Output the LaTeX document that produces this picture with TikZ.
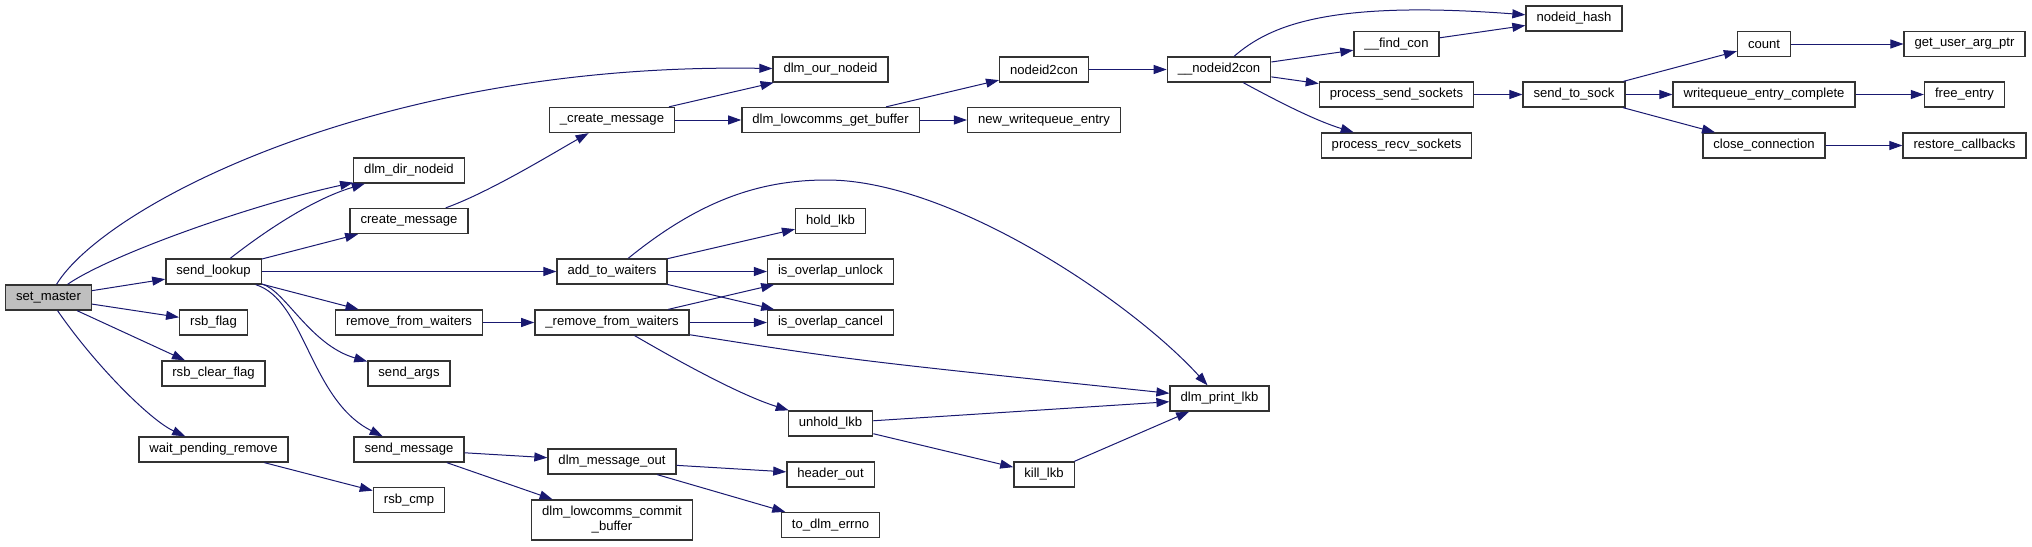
\documentclass[tikz,border=0pt]{standalone}
\usepackage{fontspec}
\setmainfont{Liberation Sans}
\usetikzlibrary{arrows.meta}
\definecolor{midnightblue}{RGB}{25,25,112}
\definecolor{grey75}{RGB}{191,191,191}
\tikzset{
  fn/.style={draw=black!80, line width=0.65pt, fill=white, inner xsep=5.25pt, inner ysep=0pt,
    minimum height=12.5pt, font=\fontsize{6.55}{7.5}\selectfont},
  call/.style={-{Triangle[length=6.5pt,width=4.5pt]}, midnightblue, line width=0.5pt}
}
\begin{document}
\begin{tikzpicture}[x=0.5pt, y=-0.5pt]
\useasboundingbox (0,0) rectangle (2032,546);

% Functions (one column per call depth)
\node[fn, fill=grey75] (set_master) at (48.5,297.5) {set\_master};

\node[fn] (send_lookup) at (213.5,271.5) {send\_lookup};
\node[fn] (rsb_flag) at (213.5,322.5) {rsb\_flag};
\node[fn] (rsb_clear_flag) at (213.5,373.5) {rsb\_clear\_flag};
\node[fn] (wait_pending) at (213.5,449.5) {wait\_pending\_remove};

\node[fn] (dir_nodeid) at (409,170.5) {dlm\_dir\_nodeid};
\node[fn] (create_msg) at (409,221) {create\_message};
\node[fn] (rm_waiters) at (409,322.5) {remove\_from\_waiters};
\node[fn] (send_args) at (409,373.5) {send\_args};
\node[fn] (send_msg) at (409,449.5) {send\_message};
\node[fn] (rsb_cmp) at (409,500) {rsb\_cmp};

\node[fn] (create_msg_int) at (612,120) {\_create\_message};
\node[fn] (add_waiters) at (612,271.5) {add\_to\_waiters};
\node[fn] (rm_waiters_int) at (612,322.5) {\_remove\_from\_waiters};
\node[fn] (msg_out) at (612,461.5) {dlm\_message\_out};
\node[fn, minimum height=20pt, align=center] (commit_buf) at (612,520) {dlm\_lowcomms\_commit\\\_buffer};

\node[fn] (our_nodeid) at (830.5,69.5) {dlm\_our\_nodeid};
\node[fn] (get_buf) at (830.5,120) {dlm\_lowcomms\_get\_buffer};
\node[fn] (hold_lkb) at (830.5,221) {hold\_lkb};
\node[fn] (ov_unlock) at (830.5,271.5) {is\_overlap\_unlock};
\node[fn] (ov_cancel) at (830.5,322.5) {is\_overlap\_cancel};
\node[fn] (unhold_lkb) at (830.5,423.5) {unhold\_lkb};
\node[fn] (header_out) at (830.5,474.5) {header\_out};
\node[fn] (errno) at (830.5,525) {to\_dlm\_errno};

\node[fn] (nodeid2con) at (1044,69.5) {nodeid2con};
\node[fn] (new_wq) at (1044,120) {new\_writequeue\_entry};
\node[fn] (kill_lkb) at (1044,474.5) {kill\_lkb};

\node[fn] (nodeid2con_int) at (1219,69.5) {\_\_nodeid2con};
\node[fn] (print_lkb) at (1219.5,398.5) {dlm\_print\_lkb};

\node[fn] (find_con) at (1396.5,44) {\_\_find\_con};
\node[fn] (send_socks) at (1396.5,94.5) {process\_send\_sockets};
\node[fn] (recv_socks) at (1396.5,145.5) {process\_recv\_sockets};

\node[fn] (nodeid_hash) at (1574,18.5) {nodeid\_hash};
\node[fn] (send_sock) at (1574,94.5) {send\_to\_sock};

\node[fn] (count) at (1764,44) {count};
\node[fn] (wq_complete) at (1764,94.5) {writequeue\_entry\_complete};
\node[fn] (close_conn) at (1764,145.5) {close\_connection};

\node[fn] (arg_ptr) at (1964.5,44) {get\_user\_arg\_ptr};
\node[fn] (free_entry) at (1964.5,94.5) {free\_entry};
\node[fn] (restore_cb) at (1964.5,145.5) {restore\_callbacks};

% Calls from set_master
\draw[call] (set_master) -- (send_lookup);
\draw[call] (set_master) -- (rsb_flag);
\draw[call] (set_master) -- (rsb_clear_flag);
\draw[call] (set_master) .. controls (95,365) and (150,420) .. (wait_pending);
\draw[call] (set_master) .. controls (110,255) and (250,205) .. (dir_nodeid);
\draw[call] (set_master) .. controls (105,205) and (380,62) .. (our_nodeid);
\draw[call] (wait_pending) -- (rsb_cmp);

% Calls from send_lookup
\draw[call] (send_lookup) .. controls (260,235) and (310,200) .. (dir_nodeid);
\draw[call] (send_lookup) -- (create_msg);
\draw[call] (send_lookup) -- (add_waiters);
\draw[call] (send_lookup) -- (rm_waiters);
\draw[call] (send_lookup) .. controls (285,290) and (310,345) .. (send_args);
\draw[call] (send_lookup) .. controls (305,300) and (310,400) .. (send_msg);

% Message buffer path
\draw[call] (create_msg) .. controls (490,192) and (555,152) .. (create_msg_int);
\draw[call] (create_msg_int) -- (our_nodeid);
\draw[call] (create_msg_int) -- (get_buf);
\draw[call] (get_buf) -- (nodeid2con);
\draw[call] (get_buf) -- (new_wq);
\draw[call] (nodeid2con) -- (nodeid2con_int);
\draw[call] (nodeid2con_int) .. controls (1270,25) and (1330,0) .. (nodeid_hash);
\draw[call] (nodeid2con_int) -- (find_con);
\draw[call] (nodeid2con_int) -- (send_socks);
\draw[call] (nodeid2con_int) .. controls (1290,108) and (1320,122) .. (recv_socks);
\draw[call] (find_con) -- (nodeid_hash);
\draw[call] (send_socks) -- (send_sock);
\draw[call] (send_sock) -- (count);
\draw[call] (send_sock) -- (wq_complete);
\draw[call] (send_sock) -- (close_conn);
\draw[call] (count) -- (arg_ptr);
\draw[call] (wq_complete) -- (free_entry);
\draw[call] (close_conn) -- (restore_cb);

% Waiters and lkb handling
\draw[call] (add_waiters) -- (hold_lkb);
\draw[call] (add_waiters) -- (ov_unlock);
\draw[call] (add_waiters) -- (ov_cancel);
\draw[call] (add_waiters) .. controls (700,200) and (760,180) .. (827,180)
  .. controls (950,180) and (1130,300) .. (print_lkb);
\draw[call] (rm_waiters) -- (rm_waiters_int);
\draw[call] (rm_waiters_int) -- (ov_unlock);
\draw[call] (rm_waiters_int) -- (ov_cancel);
\draw[call] (rm_waiters_int) .. controls (850,360) .. (print_lkb);
\draw[call] (rm_waiters_int) .. controls (680,362) and (740,395) .. (unhold_lkb);
\draw[call] (unhold_lkb) -- (print_lkb);
\draw[call] (unhold_lkb) -- (kill_lkb);
\draw[call] (kill_lkb) -- (print_lkb);

% Sending the message
\draw[call] (send_msg) -- (msg_out);
\draw[call] (send_msg) -- (commit_buf);
\draw[call] (msg_out) -- (header_out);
\draw[call] (msg_out) -- (errno);

\end{tikzpicture}
\end{document}
